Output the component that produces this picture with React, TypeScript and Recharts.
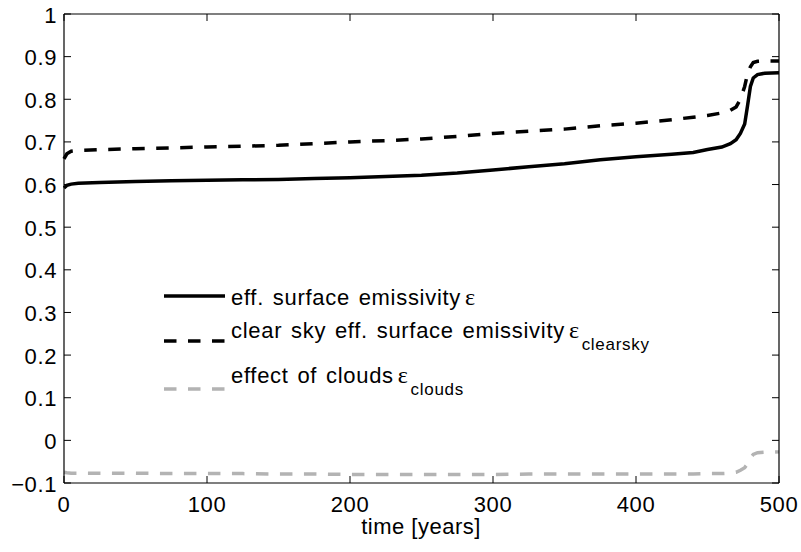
import { Line, LineChart, XAxis, YAxis } from "recharts";

const years = [
  0, 2, 5, 10, 25, 50, 75, 100, 125, 150, 175, 200, 225, 250, 275, 300, 325,
  350, 375, 400, 425, 440, 450, 460, 466, 470, 473, 476, 478, 480, 482, 485,
  490, 500,
];
const effEmissivity = [
  0.592, 0.598, 0.601, 0.603, 0.605, 0.607, 0.609, 0.61, 0.611, 0.612, 0.614,
  0.616, 0.619, 0.622, 0.627, 0.634, 0.642, 0.649, 0.658, 0.665, 0.671, 0.675,
  0.682, 0.688, 0.696, 0.705, 0.72, 0.742, 0.785, 0.83, 0.85, 0.858, 0.861,
  0.862,
];
const clearSkyEmissivity = [
  0.66, 0.672, 0.678, 0.68, 0.682, 0.684, 0.686, 0.688, 0.69, 0.692, 0.696,
  0.7, 0.703, 0.707, 0.713, 0.72, 0.725, 0.73, 0.738, 0.744, 0.752, 0.758,
  0.762, 0.768, 0.774, 0.782, 0.8, 0.83, 0.86, 0.876, 0.886, 0.889, 0.89, 0.89,
];
const cloudEffect = [
  -0.075, -0.076, -0.077, -0.077, -0.077, -0.077, -0.078, -0.078, -0.078,
  -0.079, -0.079, -0.08, -0.08, -0.08, -0.08, -0.08, -0.079, -0.079, -0.079,
  -0.079, -0.079, -0.079, -0.078, -0.078, -0.077, -0.075, -0.07, -0.064,
  -0.055, -0.042, -0.033, -0.029, -0.028, -0.027,
];
const xTicks = [0, 100, 200, 300, 400, 500];
const yTicks = [-0.1, 0, 0.1, 0.2, 0.3, 0.4, 0.5, 0.6, 0.7, 0.8, 0.9, 1];

const data = years.map((year, i) => ({
  year,
  eff: effEmissivity[i],
  clear: clearSkyEmissivity[i],
  clouds: cloudEffect[i],
}));

const FONT = "'Liberation Sans', Arial, Helvetica, sans-serif";
const SERIF = "'Liberation Serif', 'DejaVu Serif', serif";
const TICK = 7;

const fmtY = (v: number) => {
  const s = String(Math.round(v * 10) / 10);
  return v < 0 ? "\u2212" + s.slice(1) : s;
};

function LeftTick(props: any) {
  const { x, y, payload } = props;
  return (
    <g>
      <line x1={x} x2={x + TICK} y1={y} y2={y} stroke="#000" />
      <text
        x={x - 7}
        y={y + 1}
        textAnchor="end"
        dominantBaseline="central"
        fontFamily={FONT}
        fontSize={22}
        letterSpacing={0.6}
        fill="#000"
      >
        {fmtY(payload.value)}
      </text>
    </g>
  );
}

function RightTick(props: any) {
  const { x, y } = props;
  return <line x1={x} x2={x - TICK} y1={y} y2={y} stroke="#000" />;
}

function BottomTick(props: any) {
  const { x, y, payload } = props;
  return (
    <g>
      <line x1={x} x2={x} y1={y} y2={y - TICK} stroke="#000" />
      <text
        x={x}
        y={y + 29}
        textAnchor="middle"
        fontFamily={FONT}
        fontSize={22}
        letterSpacing={0.6}
        fill="#000"
      >
        {payload.value}
      </text>
    </g>
  );
}

function TopTick(props: any) {
  const { x, y } = props;
  return <line x1={x} x2={x} y1={y} y2={y + TICK} stroke="#000" />;
}

function LegendBox() {
  const rows = [
    { y: 296, base: 305, stroke: "#000", dash: undefined, text: "eff. surface emissivity", sub: "" },
    { y: 341, base: 338, stroke: "#000", dash: "12.5 11.5", text: "clear sky eff. surface emissivity", sub: "clearsky" },
    { y: 389, base: 383, stroke: "#b3b3b3", dash: "12.5 11.5", text: "effect of clouds", sub: "clouds" },
  ];
  return (
    <svg
      width={801}
      height={552}
      style={{ position: "absolute", left: 0, top: 0, pointerEvents: "none" }}
    >
      {rows.map((r) => (
        <g key={r.text}>
          <line
            x1={164}
            x2={225}
            y1={r.y}
            y2={r.y}
            stroke={r.stroke}
            strokeWidth={3.5}
            strokeDasharray={r.dash}
          />
          <text
            x={231}
            y={r.base}
            fontFamily={FONT}
            fontSize={22}
            letterSpacing={0.7}
            wordSpacing={2}
            fill="#000"
          >
            {r.text}
            <tspan fontFamily={SERIF} fontSize={24} dx={4}>
              ε
            </tspan>
            {r.sub && (
              <tspan fontSize={17} dx={2} dy={12}>
                {r.sub}
              </tspan>
            )}
          </text>
        </g>
      ))}
      <text
        x={421}
        y={534}
        textAnchor="middle"
        fontFamily={FONT}
        fontSize={22}
        letterSpacing={0.5}
        fill="#000"
      >
        time [years]
      </text>
    </svg>
  );
}

export default function App() {
  return (
    <div
      style={{
        position: "fixed",
        left: 0,
        top: 0,
        width: 801,
        height: 552,
        background: "#fff",
      }}
    >
      <LineChart
        width={801}
        height={552}
        data={data}
        margin={{ top: 4, right: 12, left: 4, bottom: 29 }}
      >
        <XAxis
          xAxisId="bottom"
          dataKey="year"
          type="number"
          domain={[0, 500]}
          ticks={xTicks}
          height={40}
          tickSize={0}
          tickMargin={0}
          tickLine={false}
          axisLine={{ stroke: "#000", strokeWidth: 1.2 }}
          tick={<BottomTick />}
          interval={0}
        />
        <XAxis
          xAxisId="top"
          orientation="top"
          dataKey="year"
          type="number"
          domain={[0, 500]}
          ticks={xTicks}
          height={10}
          tickSize={0}
          tickMargin={0}
          tickLine={false}
          axisLine={{ stroke: "#000", strokeWidth: 1.2 }}
          tick={<TopTick />}
          interval={0}
        />
        <YAxis
          yAxisId="left"
          type="number"
          domain={[-0.1, 1]}
          ticks={yTicks}
          width={60}
          tickSize={0}
          tickMargin={0}
          tickLine={false}
          axisLine={{ stroke: "#000", strokeWidth: 1.2 }}
          tick={<LeftTick />}
          interval={0}
        />
        <YAxis
          yAxisId="right"
          orientation="right"
          type="number"
          domain={[-0.1, 1]}
          ticks={yTicks}
          width={10}
          tickSize={0}
          tickMargin={0}
          tickLine={false}
          axisLine={{ stroke: "#000", strokeWidth: 1.2 }}
          tick={<RightTick />}
          interval={0}
        />
        <Line
          xAxisId="top"
          yAxisId="right"
          dataKey="eff"
          stroke="none"
          dot={false}
          activeDot={false}
          legendType="none"
          isAnimationActive={false}
        />
        <Line
          xAxisId="bottom"
          yAxisId="left"
          type="linear"
          dataKey="clouds"
          stroke="#b3b3b3"
          strokeWidth={3.5}
          strokeDasharray="12.5 11.5"
          dot={false}
          isAnimationActive={false}
        />
        <Line
          xAxisId="bottom"
          yAxisId="left"
          type="linear"
          dataKey="clear"
          stroke="#000"
          strokeWidth={3.5}
          strokeDasharray="12.5 11.5"
          dot={false}
          isAnimationActive={false}
        />
        <Line
          xAxisId="bottom"
          yAxisId="left"
          type="linear"
          dataKey="eff"
          stroke="#000"
          strokeWidth={3.5}
          dot={false}
          isAnimationActive={false}
        />
      </LineChart>
      <LegendBox />
    </div>
  );
}
